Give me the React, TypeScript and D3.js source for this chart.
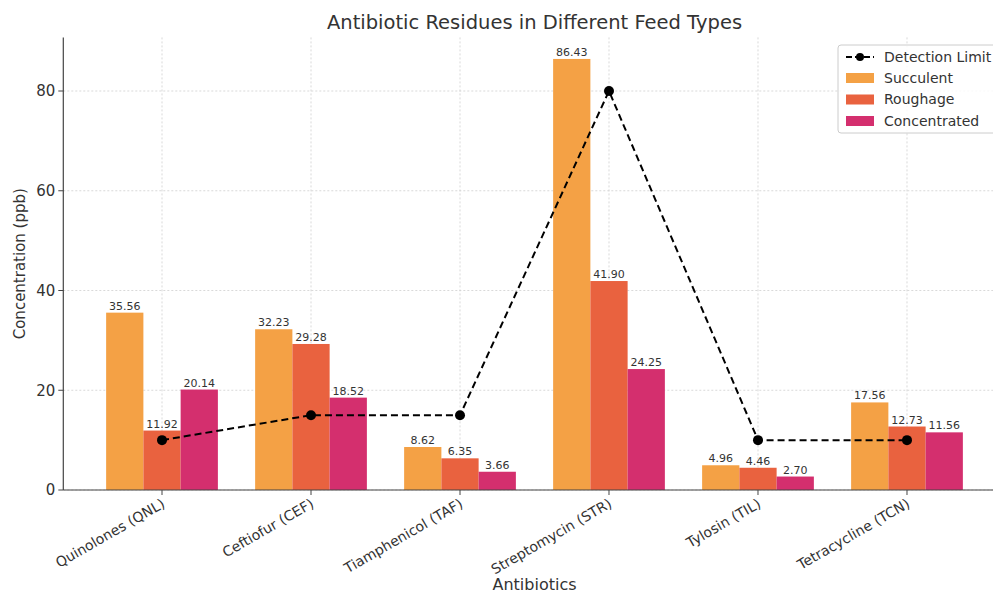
import React from "react";
import * as d3 from "d3";

const categories = ["Quinolones (QNL)", "Ceftiofur (CEF)", "Tiamphenicol (TAF)", "Streptomycin (STR)", "Tylosin (TIL)", "Tetracycline (TCN)"];
const succulent = [35.56, 32.23, 8.62, 86.43, 4.96, 17.56];
const roughage = [11.92, 29.28, 6.35, 41.9, 4.46, 12.73];
const concentrated = [20.14, 18.52, 3.66, 24.25, 2.7, 11.56];
const detectionLimit = [10, 15, 15, 80, 10, 10];
const seriesNames = ["Succulent", "Roughage", "Concentrated"];
const seriesColors = ["#F4A145", "#E9623F", "#D42F6E"];
const yTicks = [0, 20, 40, 60, 80];

const W = 993, H = 595;
const FONT = "DejaVu Sans, sans-serif";

export default function App() {
  const left = 63.3, right = 1005.7, top = 37.4, bottom = 490;
  const x = d3.scaleLinear().domain([-0.6625, 5.6625]).range([left, right]);
  const y = d3.scaleLinear().domain([0, 90.75]).range([bottom, top]);
  const bw = 0.25;
  const series = [succulent, roughage, concentrated];
  const line = d3.line<number>().x((_, i) => x(i)).y((d) => y(d));

  return (
    <svg width={W} height={H} style={{ position: "absolute", left: 0, top: 0, background: "#fff" }} fontFamily={FONT}>
      <rect width={W} height={H} fill="#fff" />
      {/* grid */}
      {yTicks.map((t) => (
        <line key={"gy" + t} x1={left} x2={right} y1={y(t)} y2={y(t)} stroke="#cfcfcf" strokeWidth={0.8} strokeDasharray="2,2" />
      ))}
      {categories.map((_, i) => (
        <line key={"gx" + i} x1={x(i)} x2={x(i)} y1={top} y2={bottom} stroke="#cfcfcf" strokeWidth={0.8} strokeDasharray="2,2" />
      ))}
      {/* bars */}
      {series.map((vals, s) =>
        vals.map((v, i) => {
          const cx = i + (s - 1) * bw;
          const x0 = x(cx - bw / 2), x1 = x(cx + bw / 2);
          return (
            <g key={`b${s}-${i}`}>
              <rect x={x0} y={y(v)} width={x1 - x0} height={y(0) - y(v)} fill={seriesColors[s]} />
              <text x={(x0 + x1) / 2} y={y(v) - 3} textAnchor="middle" fontSize={11} fill="#333">{v.toFixed(2)}</text>
            </g>
          );
        })
      )}
      {/* detection limit */}
      <path d={line(detectionLimit) || ""} fill="none" stroke="#000" strokeWidth={2} strokeDasharray="7,4" />
      {detectionLimit.map((v, i) => (
        <circle key={"m" + i} cx={x(i)} cy={y(v)} r={5} fill="#000" />
      ))}
      {/* axes */}
      <line x1={left} x2={left} y1={top} y2={bottom} stroke="#444" strokeWidth={1.2} />
      <line x1={left} x2={right} y1={bottom} y2={bottom} stroke="#444" strokeWidth={1.2} />
      {yTicks.map((t) => (
        <g key={"yt" + t}>
          <line x1={left - 5} x2={left} y1={y(t)} y2={y(t)} stroke="#444" />
          <text x={left - 8} y={y(t)} dy="0.35em" textAnchor="end" fontSize={15} fill="#333">{t}</text>
        </g>
      ))}
      {categories.map((c, i) => (
        <g key={"xt" + i}>
          <line x1={x(i)} x2={x(i)} y1={bottom} y2={bottom + 5} stroke="#444" />
          <text transform={`translate(${x(i) - 1},${bottom + 8}) rotate(-30)`} textAnchor="end" dy="0.7em" fontSize={14} fill="#333">{c}</text>
        </g>
      ))}
      <text x={(left + right) / 2} y={22} textAnchor="middle" dy="0.35em" fontSize={19.5} fill="#333">Antibiotic Residues in Different Feed Types</text>
      <text x={(left + right) / 2} y={590} textAnchor="middle" fontSize={16} fill="#333">Antibiotics</text>
      <text transform={`translate(20,${(top + bottom) / 2}) rotate(-90)`} textAnchor="middle" dy="0.35em" fontSize={15} fill="#333">Concentration (ppb)</text>
      {/* legend */}
      <g transform="translate(838,45)">
        <rect x={0} y={0} width={170} height={88} rx={3} fill="#fff" fillOpacity={0.85} stroke="#ccc" />
        <line x1={8} x2={36} y1={12} y2={12} stroke="#000" strokeWidth={2} strokeDasharray="6,3" />
        <circle cx={22} cy={12} r={4} fill="#000" />
        <text x={46} y={12} dy="0.35em" fontSize={14} fill="#333">Detection Limit</text>
        {seriesNames.map((n, s) => (
          <g key={n} transform={`translate(0,${33 + s * 21.5})`}>
            <rect x={8} y={-5} width={28} height={10} fill={seriesColors[s]} />
            <text x={46} y={0} dy="0.35em" fontSize={14} fill="#333">{n}</text>
          </g>
        ))}
      </g>
    </svg>
  );
}
